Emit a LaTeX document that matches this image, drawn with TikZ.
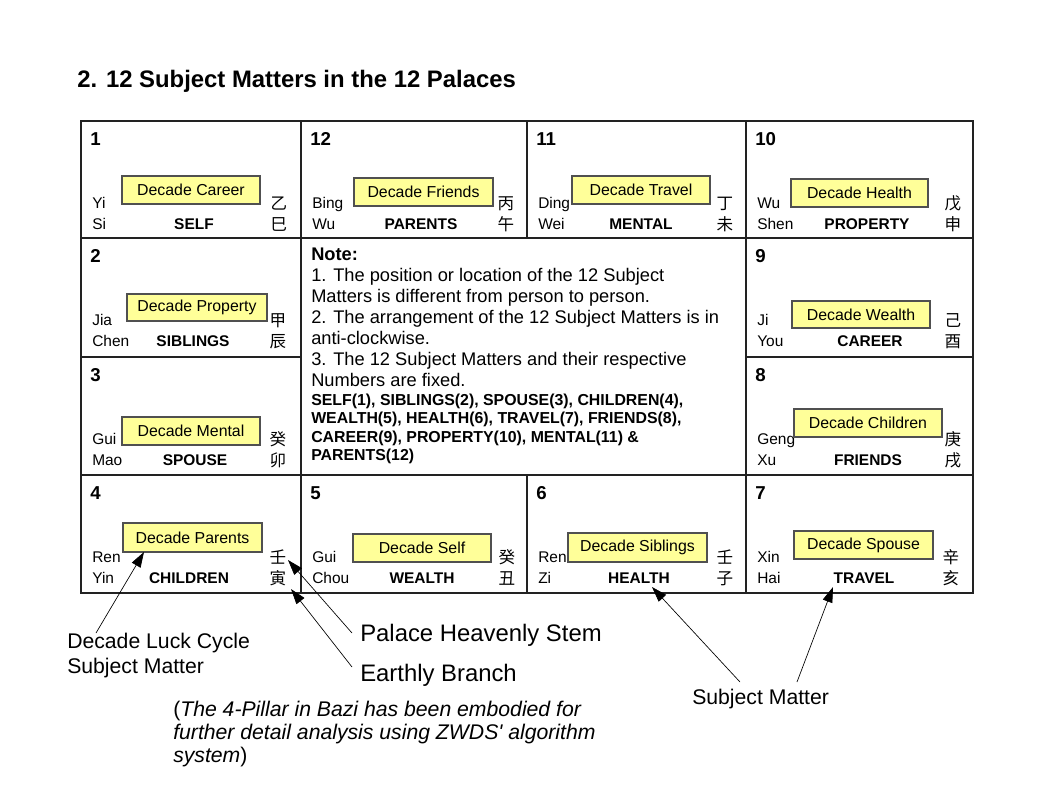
\documentclass[tikz,border=0pt]{standalone}
\usepackage{fontspec}
\setmainfont{Liberation Sans}
\newfontfamily\cjk{Noto Sans CJK SC}
\usetikzlibrary{arrows.meta}
\definecolor{boxyellow}{HTML}{FFFF99}
\definecolor{boxedge}{HTML}{505050}
\definecolor{gridline}{HTML}{222222}
\begin{document}
\begin{tikzpicture}[x=0.75pt,y=-0.75pt,
  txt/.style={inner sep=0pt, anchor=base west, font=\fontsize{11.6pt}{13pt}\selectfont},
  lbl/.style={inner sep=0pt, anchor=base, font=\fontsize{11.6pt}{13pt}\selectfont\bfseries},
  numlbl/.style={inner sep=0pt, anchor=base west, font=\fontsize{14pt}{16pt}\selectfont\bfseries},
  cjkch/.style={inner sep=0pt, anchor=base, font=\fontsize{12.4pt}{13pt}\selectfont\cjk},
  decbox/.style={draw=boxedge, fill=boxyellow, line width=0.9pt, inner sep=0pt, font=\fontsize{11.9pt}{13pt}\selectfont},
  notetxt/.style={inner sep=0pt, anchor=base west, font=\fontsize{13.7pt}{16pt}\selectfont},
  notebold/.style={inner sep=0pt, anchor=base west, font=\fontsize{11.9pt}{14pt}\selectfont\bfseries},
  anno/.style={inner sep=0pt, anchor=base west, font=\fontsize{15.9pt}{18pt}\selectfont},
  annobig/.style={inner sep=0pt, anchor=base west, font=\fontsize{17.9pt}{20pt}\selectfont},
  grid/.style={draw=gridline, line width=1.1pt},
  pointer/.style={draw=black, line width=0.5pt, -{Triangle[length=11.5pt,width=7.5pt]}}
]
\useasboundingbox (0,0) rectangle (1058,794);
\fill[white] (0,0) rectangle (1058,794);

% title
\node[inner sep=0pt, anchor=base west, font=\fontsize{17.9pt}{20pt}\selectfont\bfseries] (title) at (77,87) {2. 12 Subject Matters in the 12 Palaces};

% grid
\draw[grid] (81,121) rectangle (973,593);
\draw[grid] (81,238) -- (973,238);
\draw[grid] (81,475) -- (973,475);
\draw[grid] (81,357) -- (301,357);
\draw[grid] (746,357) -- (973,357);
\draw[grid] (301,121) -- (301,593);
\draw[grid] (746,121) -- (746,593);
\draw[grid] (527,121) -- (527,238);
\draw[grid] (527,475) -- (527,593);

% palaces
\foreach \nm/\l/\t/\num/\st/\br/\lab/\lx/\ca/\cb/\cx in {
  p1/81/121/1/Yi/Si/SELF/194/乙/巳/279,
  p12/301/121/12/Bing/Wu/PARENTS/421/丙/午/506,
  p11/527/121/11/Ding/Wei/MENTAL/641/丁/未/725,
  p10/746/121/10/Wu/Shen/PROPERTY/867/戊/申/953,
  p2/81/238/2/Jia/Chen/SIBLINGS/193/甲/辰/278,
  p9/746/238/9/Ji/You/CAREER/870/己/酉/953,
  p3/81/357/3/Gui/Mao/SPOUSE/195/癸/卯/278,
  p8/746/357/8/Geng/Xu/FRIENDS/868/庚/戌/953,
  p4/81/475/4/Ren/Yin/CHILDREN/189/壬/寅/278,
  p5/301/475/5/Gui/Chou/WEALTH/422/癸/丑/507,
  p6/527/475/6/Ren/Zi/HEALTH/639/壬/子/725,
  p7/746/475/7/Xin/Hai/TRAVEL/864/辛/亥/951}{
  \node[numlbl] (\nm num) at (\l+9,\t+24) {\num};
  \node[txt] (\nm stem) at (\l+11,\t+87) {\st};
  \node[txt] (\nm branch) at (\l+11,\t+108) {\br};
  \node[lbl] (\nm lab) at (\lx,\t+108) {\lab};
  \node[cjkch] (\nm ca) at (\cx,\t+88) {\ca};
  \node[cjkch] (\nm cb) at (\cx,\t+109) {\cb};
}

% decade boxes
\foreach \nm/\xa/\ya/\xb/\yb/\tx in {
  d1/122/176/260/204/Decade Career,
  d12/354/178/493/206/Decade Friends,
  d11/572/176/710/204/Decade Travel,
  d10/791/179/928/207/Decade Health,
  d2/127/294/267/321/Decade Property,
  d9/792/301/930/328/Decade Wealth,
  d3/122/417/260/445/Decade Mental,
  d8/794/409/942/437/Decade Children,
  d4/123/523/262/552/Decade Parents,
  d5/353/534/491/562/Decade Self,
  d6/568/533/707/562/Decade Siblings,
  d7/794/531/933/559/Decade Spouse}{
  \node[decbox, minimum width={(\xb-\xa)*0.75pt}, minimum height={(\yb-\ya)*0.75pt}] (\nm) at ({(\xa+\xb)/2},{(\ya+\yb)/2}) {\tx};
}

% note
\node[inner sep=0pt, anchor=base west, font=\fontsize{13.7pt}{16pt}\selectfont\bfseries] (n0) at (311,260) {Note:};
\node[notetxt] (n1) at (311,281) {1. The position or location of the 12 Subject};
\node[notetxt] (n2) at (311,302) {Matters is different from person to person.};
\node[notetxt] (n3) at (311,323) {2. The arrangement of the 12 Subject Matters is in};
\node[notetxt] (n4) at (311,344) {anti-clockwise.};
\node[notetxt] (n5) at (311,365) {3. The 12 Subject Matters and their respective};
\node[notetxt] (n6) at (311,386) {Numbers are fixed.};
\node[notebold] (n7) at (311,405) {SELF(1), SIBLINGS(2), SPOUSE(3), CHILDREN(4),};
\node[notebold] (n8) at (311,423) {WEALTH(5), HEALTH(6), TRAVEL(7), FRIENDS(8),};
\node[notebold] (n9) at (311,442) {CAREER(9), PROPERTY(10), MENTAL(11) \&};
\node[notebold] (n10) at (311,460) {PARENTS(12)};

% annotations
\node[anno] (luckA) at (67,648) {Decade Luck Cycle};
\node[anno] (luckB) at (67,673) {Subject Matter};
\node[annobig] (stem) at (360,641) {Palace Heavenly Stem};
\node[annobig] (branch) at (360,681) {Earthly Branch};
\node[anno] (subj) at (692,704) {Subject Matter};
\node[anno] (it1) at (173,716) {(\textit{The 4-Pillar in Bazi has been embodied for}};
\node[anno] (it2) at (173,739) {\textit{further detail analysis using ZWDS\textquotesingle\ algorithm}};
\node[anno] (it3) at (173,762) {\textit{system})};

% pointer coordinates
\coordinate (luckS) at (96,633);
\coordinate (luckT) at (144,552);
\coordinate (stemS) at (352,633);
\coordinate (stemT) at (288,560);
\coordinate (brS) at (352,667);
\coordinate (brT) at (291,589);
\coordinate (subS1) at (740,682);
\coordinate (subT1) at (652,587);
\coordinate (subS2) at (797,682);
\coordinate (subT2) at (833,587);

\draw[pointer] (luckS) -- (luckT);
\draw[pointer] (stemS) -- (stemT);
\draw[pointer] (brS) -- (brT);
\draw[pointer] (subS1) -- (subT1);
\draw[pointer] (subS2) -- (subT2);
\end{tikzpicture}
\end{document}
